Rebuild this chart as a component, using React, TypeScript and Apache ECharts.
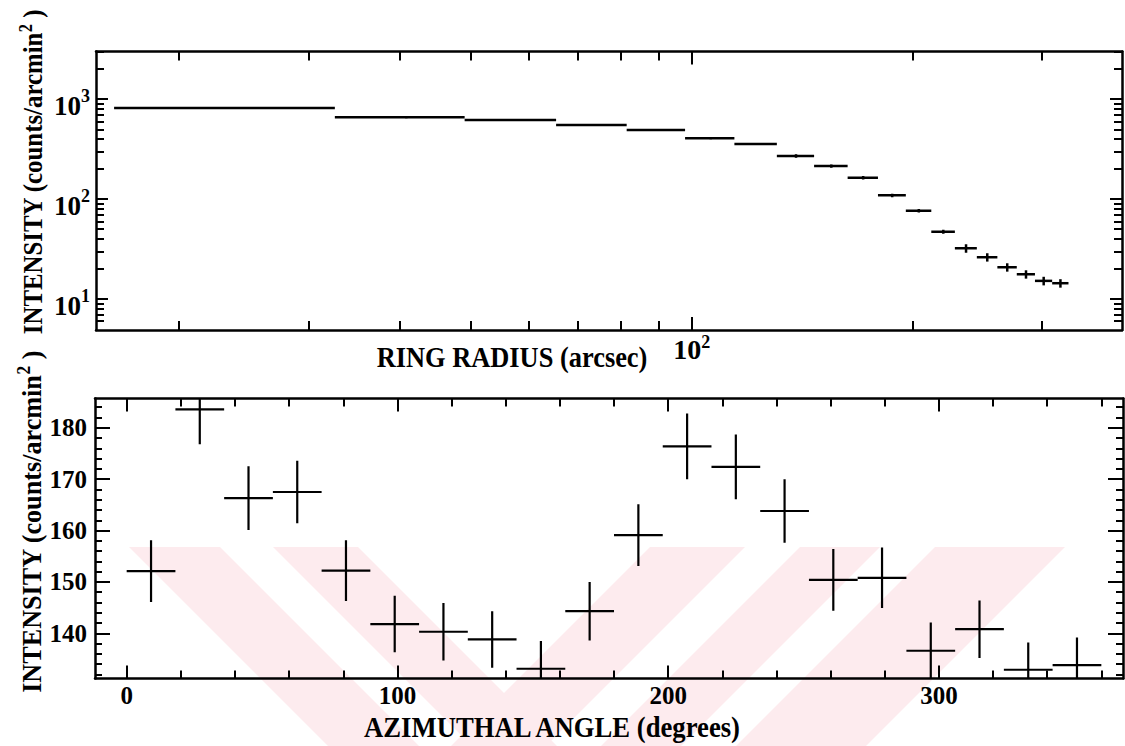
import React, { useEffect, useRef } from 'react';
import * as echarts from 'echarts';

// ---------- DATA ----------
// Upper panel: radial profile, ring bin edges (arcsec)
const radiusEdges = [16.3, 32.6, 49.0, 65.3, 81.5, 97.9, 114.3, 130.6, 146.8, 163.1, 179.4, 195.8, 212.1, 228.4, 244.7, 261.0, 277.4, 293.7, 310.0, 326.3];
const ringIntensity = [816, 659, 619, 551, 492, 406, 356, 270, 214, 164, 109, 76.6, 47.2, 32.2, 26.2, 20.8, 17.7, 15.2, 14.4];
const ringError = [19, 15, 14, 13, 11, 9, 8, 11, 8.5, 6.6, 4.4, 3.1, 2.2, 3.1, 2.5, 2.0, 1.7, 1.5, 1.4];

// Lower panel: azimuthal profile, bin edges (degrees)
const angleEdges = [0, 18, 36, 54, 72, 90, 108, 126, 144, 162, 180, 198, 216, 234, 252, 270, 288, 306, 324, 342, 360];
const azIntensity = [152.1, 183.6, 166.3, 167.5, 152.2, 141.8, 140.3, 138.8, 133.1, 144.3, 159.1, 176.4, 172.4, 163.8, 150.4, 150.8, 136.6, 140.8, 132.9, 133.8];
const azError = [6.0, 6.8, 6.2, 6.1, 5.9, 5.5, 5.6, 5.5, 5.4, 5.7, 6.0, 6.4, 6.3, 6.2, 6.0, 5.9, 5.5, 5.6, 5.3, 5.4];

// Tick values
const ringMajorX = [100];
const ringMinorX = [20, 30, 40, 50, 60, 70, 80, 90, 200, 300];
const ringMajorY = [10, 100, 1000];
const ringMinorY = [6, 7, 8, 9, 20, 30, 40, 50, 60, 70, 80, 90, 200, 300, 400, 500, 600, 700, 800, 900, 2000, 3000];
const azMajorX = [0, 100, 200, 300];
const azMinorX = [20, 40, 60, 80, 120, 140, 160, 180, 220, 240, 260, 280, 320, 340, 360];
const azMajorY = [140, 150, 160, 170, 180];
const azMinorY = [132, 134, 136, 138, 142, 144, 146, 148, 152, 154, 156, 158, 162, 164, 166, 168, 172, 174, 176, 178, 182, 184];

// ---------- STYLE ----------
const FONT = 'Liberation Serif, Times New Roman, Times, serif';
const PINK = '#fdebee';

const ringData = ringIntensity.map((v, i) => [
  radiusEdges[i], radiusEdges[i + 1], v, ringError[i], (radiusEdges[i] + radiusEdges[i + 1]) / 2,
]);
const azData = azIntensity.map((v, i) => [
  angleEdges[i], angleEdges[i + 1], v, azError[i], (angleEdges[i] + angleEdges[i + 1]) / 2,
]);

const renderCross = (lw: number) => (params: any, api: any) => {
  const lo = api.value(0), hi = api.value(1), v = api.value(2), e = api.value(3), c = api.value(4);
  const a = api.coord([lo, v]);
  const b = api.coord([hi, v]);
  const t = api.coord([c, v + e]);
  const d = api.coord([c, v - e]);
  const style = { stroke: '#000', lineWidth: lw };
  return {
    type: 'group',
    children: [
      { type: 'line', shape: { x1: a[0], y1: a[1], x2: b[0], y2: b[1] }, style },
      { type: 'line', shape: { x1: t[0], y1: t[1], x2: d[0], y2: d[1] }, style },
    ],
  };
};

function axis(
  gridIndex: number, position: string, type: string, min: number, max: number,
  ticks: number[], tickLen: number, showLine: boolean, label?: any,
) {
  const o: any = {
    type, gridIndex, position, min, max,
    axisLine: { show: showLine, onZero: false, lineStyle: { color: '#000', width: 2.5 } },
    axisTick: { show: true, inside: true, length: tickLen, customValues: ticks, lineStyle: { color: '#000', width: 2 } },
    axisLabel: label ? label : { show: false },
    splitLine: { show: false },
    minorTick: { show: false },
    minorSplitLine: { show: false },
  };
  if (type === 'log') o.logBase = 10;
  return o;
}

const ringYLabel = {
  show: true,
  customValues: ringMajorY,
  margin: 6,
  formatter: (v: number) => `{b|10}{s|${Math.round(Math.log10(v))}}`,
  rich: {
    b: { fontFamily: FONT, fontWeight: 'bold', fontSize: 27, color: '#000', lineHeight: 40, padding: [8, 0, 0, 0], verticalAlign: 'bottom' },
    s: { fontFamily: FONT, fontWeight: 'bold', fontSize: 18, color: '#000', lineHeight: 14, padding: [8, 0, 0, 0], verticalAlign: 'top' },
  },
};
const ringXLabel = {
  show: true,
  customValues: ringMajorX,
  margin: 3,
  formatter: (v: number) => `{b|10}{s|${Math.round(Math.log10(v))}}`,
  rich: {
    b: { fontFamily: FONT, fontWeight: 'bold', fontSize: 28, color: '#000', lineHeight: 30, padding: [4, 0, 0, 0], verticalAlign: 'bottom' },
    s: { fontFamily: FONT, fontWeight: 'bold', fontSize: 18, color: '#000', lineHeight: 14, verticalAlign: 'top' },
  },
};
const numLabel = (values: number[], margin: number) => ({
  show: true,
  customValues: values,
  margin,
  fontFamily: FONT,
  fontWeight: 'bold',
  fontSize: 25,
  color: '#000',
});

const RX: [number, number] = [15.4, 386];
const RY: [number, number] = [4.9, 3000];
const AX: [number, number] = [-11.7, 368];
const AY: [number, number] = [131.2, 185.7];

const watermark = [
  [[129, 547], [220, 547], [419, 746], [328, 746]],
  [[273, 547], [358, 547], [557, 746], [472, 746]],
  [[650, 547], [745, 547], [546, 746], [451, 746]],
  [[800, 547], [880, 547], [681, 746], [601, 746]],
  [[935, 547], [1065, 547], [866, 746], [736, 746]],
].map((pts) => ({ type: 'polygon', z: -10, silent: true, shape: { points: pts }, style: { fill: PINK } }));

const yTitleRich = {
  a: { fontFamily: FONT, fontWeight: 'bold', fontSize: 27, fill: '#000', color: '#000', lineHeight: 34, padding: [8, 0, 0, 0], verticalAlign: 'bottom' },
  s: { fontFamily: FONT, fontWeight: 'bold', fontSize: 18, fill: '#000', color: '#000', lineHeight: 16, padding: [4, 0, 0, 0], verticalAlign: 'top' },
};

const option: any = {
  animation: false,
  backgroundColor: '#fff',
  textStyle: { fontFamily: FONT },
  grid: [
    { left: 96, top: 51.5, width: 1026, height: 278.5 },
    { left: 95, top: 398.5, width: 1028, height: 280 },
  ],
  xAxis: [
    axis(0, 'bottom', 'log', RX[0], RX[1], ringMajorX, 13, true, ringXLabel),
    axis(0, 'bottom', 'log', RX[0], RX[1], ringMinorX, 9, false),
    axis(0, 'top', 'log', RX[0], RX[1], ringMajorX, 13, true),
    axis(0, 'top', 'log', RX[0], RX[1], ringMinorX, 9, false),
    axis(1, 'bottom', 'value', AX[0], AX[1], azMajorX, 13, true, numLabel(azMajorX, 4)),
    axis(1, 'bottom', 'value', AX[0], AX[1], azMinorX, 8, false),
    axis(1, 'top', 'value', AX[0], AX[1], azMajorX, 13, true),
    axis(1, 'top', 'value', AX[0], AX[1], azMinorX, 8, false),
  ],
  yAxis: [
    axis(0, 'left', 'log', RY[0], RY[1], ringMajorY, 12, true, ringYLabel),
    axis(0, 'left', 'log', RY[0], RY[1], ringMinorY, 8, false),
    axis(0, 'right', 'log', RY[0], RY[1], ringMajorY, 12, true),
    axis(0, 'right', 'log', RY[0], RY[1], ringMinorY, 8, false),
    axis(1, 'left', 'value', AY[0], AY[1], azMajorY, 15, true, numLabel(azMajorY, 8)),
    axis(1, 'left', 'value', AY[0], AY[1], azMinorY, 7, false),
    axis(1, 'right', 'value', AY[0], AY[1], azMajorY, 15, true),
    axis(1, 'right', 'value', AY[0], AY[1], azMinorY, 7, false),
  ],
  series: [
    {
      name: 'Radial profile',
      type: 'custom',
      coordinateSystem: 'cartesian2d',
      xAxisIndex: 0,
      yAxisIndex: 0,
      clip: true,
      encode: { x: [0, 1], y: 2 },
      renderItem: renderCross(2.5),
      data: ringData,
    },
    {
      name: 'Azimuthal profile',
      type: 'custom',
      coordinateSystem: 'cartesian2d',
      xAxisIndex: 4,
      yAxisIndex: 4,
      clip: true,
      encode: { x: [0, 1], y: 2 },
      renderItem: renderCross(2.2),
      data: azData,
    },
  ],
  graphic: [
    ...watermark,
    {
      type: 'text', x: 512, y: 357, scaleX: 0.88, z: 10,
      style: { text: 'RING RADIUS (arcsec)', fontFamily: FONT, fontWeight: 'bold', fontSize: 30, fill: '#000', align: 'center', verticalAlign: 'middle' },
    },
    {
      type: 'text', x: 552, y: 727, scaleX: 0.89, z: 10,
      style: { text: 'AZIMUTHAL ANGLE (degrees)', fontFamily: FONT, fontWeight: 'bold', fontSize: 30, fill: '#000', align: 'center', verticalAlign: 'middle' },
    },
    {
      type: 'text', x: 30, y: 172, rotation: Math.PI / 2, scaleX: 0.92, z: 10,
      style: { text: '{a|INTENSITY (counts/arcmin}{s|2}{a| )}', rich: yTitleRich, align: 'center', verticalAlign: 'middle' },
    },
    {
      type: 'text', x: 28, y: 522, rotation: Math.PI / 2, scaleX: 0.97, z: 10,
      style: { text: '{a|INTENSITY (counts/arcmin}{s|2}{a| )}', rich: yTitleRich, align: 'center', verticalAlign: 'middle' },
    },
  ],
};

export default function App() {
  const ref = useRef<HTMLDivElement>(null);
  useEffect(() => {
    if (!ref.current) return;
    const chart = echarts.init(ref.current, null, { renderer: 'svg' });
    chart.setOption(option);
    return () => chart.dispose();
  }, []);
  return (
    <div
      ref={ref}
      style={{ position: 'fixed', left: 0, top: 0, width: 1125, height: 746, background: '#fff' }}
    />
  );
}
